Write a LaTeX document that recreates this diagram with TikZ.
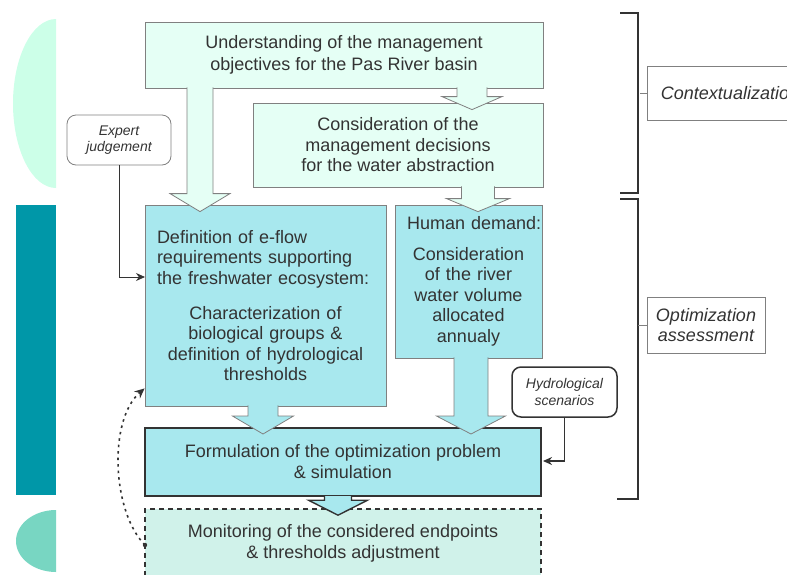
\documentclass[tikz,border=0pt]{standalone}
\usepackage{fontspec}
\setmainfont{Liberation Sans}
\usetikzlibrary{arrows.meta}
\usetikzlibrary{calc}
\setlength{\parindent}{0pt}

\definecolor{mintbox}{HTML}{E5FFF5}
\definecolor{mintside}{HTML}{CCFFE8}
\definecolor{cyanbox}{HTML}{A8E8EE}
\definecolor{tealside}{HTML}{0097A8}
\definecolor{greenside}{HTML}{78D6C2}
\definecolor{monbox}{HTML}{D0F2EA}
\definecolor{boxline}{HTML}{808080}
\definecolor{inkgray}{HTML}{333333}

% wide arrow: [style]{x}{from}{to}{stem half}{head half}{head length}
\newcommand{\fatarrow}[7][]{%
  \filldraw[#1] let \p1=#3, \p2=#4, \p3=(#2,0) in
    (\x3-#5pt,\y1+1pt) -- (\x3-#5pt,\y2-7pt+#7pt) -- (\x3-#6pt,\y2-7pt+#7pt)
    -- (\x3,\y2-7pt) -- (\x3+#6pt,\y2-7pt+#7pt) -- (\x3+#5pt,\y2-7pt+#7pt)
    -- (\x3+#5pt,\y1+1pt);}

\begin{document}
\begin{tikzpicture}[x=1pt,y=-1pt]

\tikzstyle{stage}=[draw=boxline, line width=0.8pt, text=inkgray, font=\fontsize{18}{21}\selectfont, inner sep=0pt]
\tikzstyle{context}=[stage, fill=mintbox, align=center]
\tikzstyle{assess}=[stage, fill=cyanbox]
\tikzstyle{source}=[draw=inkgray, rounded corners=9pt, text=inkgray, align=center, font=\fontsize{14}{16.5}\selectfont\itshape, inner sep=0pt]
\tikzstyle{phase}=[draw=boxline, line width=0.6pt, fill=white, text=inkgray, align=center, font=\fontsize{18}{20}\selectfont\itshape]
\tikzstyle{connect}=[-{Stealth[length=9pt,width=8pt]}, inkgray]
\tikzstyle{feedback}=[-{Stealth[length=10pt,width=9pt]}, inkgray, line width=1.6pt, dash pattern=on 2.5pt off 4pt]
\tikzstyle{bracket}=[inkgray, line width=1.5pt]

\clip (0,0) rectangle (787,574);

% side bands
\begin{scope}
\clip (0,0) rectangle (56,574);
\fill[mintside] (56,103.5) ellipse [x radius=43, y radius=84.5];
\fill[greenside] (56,541) ellipse [x radius=40, y radius=31];
\end{scope}
\fill[tealside] (16,205) rectangle (56,495);

\node[context, minimum width=398, minimum height=66, font=\fontsize{18}{22}\selectfont] (und) at (344,55) {Understanding of the management\\objectives for the Pas River basin};
\node[context, minimum width=290, minimum height=84, font=\fontsize{18}{20.5}\selectfont] (cons) at (398,145) {Consideration of the\\management decisions\\for the water abstraction};

\node[assess, minimum width=241, minimum height=201, text width=217, font=\fontsize{18}{20.3}\selectfont] (defn) at (265.5,305.5) {\raggedright Definition of e-flow\\requirements supporting\\the freshwater ecosystem:\par\vspace{15pt}\centering Characterization of\\biological groups \&\\definition of hydrological\\thresholds\par};
\node[assess, minimum width=147, minimum height=153, text width=123, font=\fontsize{18}{20.5}\selectfont] (human) at (468.5,281.5) {\raggedright\mbox{Human demand:}\par\vspace{10pt}\centering Consideration\\of the river\\water volume\\allocated\\annualy\par};

\node[assess, draw=inkgray, line width=2pt, minimum width=396, minimum height=68, align=center] (form) at (343,462) {Formulation of the optimization problem\\\& simulation};
\node[stage, fill=monbox, draw=inkgray, line width=1.6pt, dash pattern=on 5pt off 4pt, minimum width=396, minimum height=82, text depth=18pt, align=center] (mon) at (343,550) {Monitoring of the considered endpoints\\\& thresholds adjustment};

\node[source, draw=boxline, line width=0.8pt, minimum width=104, minimum height=50] (expert) at (119,140) {Expert\\judgement};
\node[source, line width=1.5pt, minimum width=105, minimum height=50] (hydro) at (564.5,392) {Hydrological\\scenarios};

\node[phase, minimum width=166, minimum height=54] (ctx) at (730,93) {Contextualization};
\node[phase, minimum width=118, minimum height=56] (opt) at (706,325) {Optimization\\assessment};

% wide arrows
\fatarrow[fill=mintbox, draw=boxline, line width=0.8pt]{200}{(und.south)}{(defn.north)}{13}{30}{18}
\fatarrow[fill=mintbox, draw=boxline, line width=0.8pt]{472}{(und.south)}{(cons.north)}{15}{30}{13}
\fatarrow[fill=mintbox, draw=boxline, line width=0.8pt]{478}{(cons.south)}{(human.north)}{16.5}{31.5}{13}
\fatarrow[fill=cyanbox, draw=boxline, line width=0.8pt]{263}{(defn.south)}{(form.north)}{15}{30.5}{18}
\fatarrow[fill=cyanbox, draw=boxline, line width=0.8pt]{471}{(human.south)}{(form.north)}{17}{34.5}{18}
\fatarrow[fill=cyanbox, draw=inkgray, line width=1.4pt]{338}{(form.south)}{(mon.north)}{13.5}{29.5}{15}

% inputs
\coordinate (expin) at (145,277);
\coordinate (hydin) at (543,461);
\draw[connect, line width=0.8pt] (expert.south) |- (expin);
\draw[connect, line width=1.5pt] (hydro.south) |- (hydin);

% feedback loop
\coordinate (fbout) at (145,545);
\fill[inkgray] (fbout) circle (2.2);
\draw[feedback] (fbout) .. controls (112,512) and (108,420) .. ([yshift=18pt]defn.south west);

% phases
\draw[bracket] (620,13) -- (638,13) -- (638,193) -- (620,193);
\draw[bracket] (620,199) -- (638,199) -- (638,499) -- (617,499);
\draw[boxline, line width=0.6pt] (ctx.west) -- ++(-7,0);
\draw[boxline, line width=0.6pt] (opt.west) -- ++(-9,0);

\end{tikzpicture}
\end{document}
